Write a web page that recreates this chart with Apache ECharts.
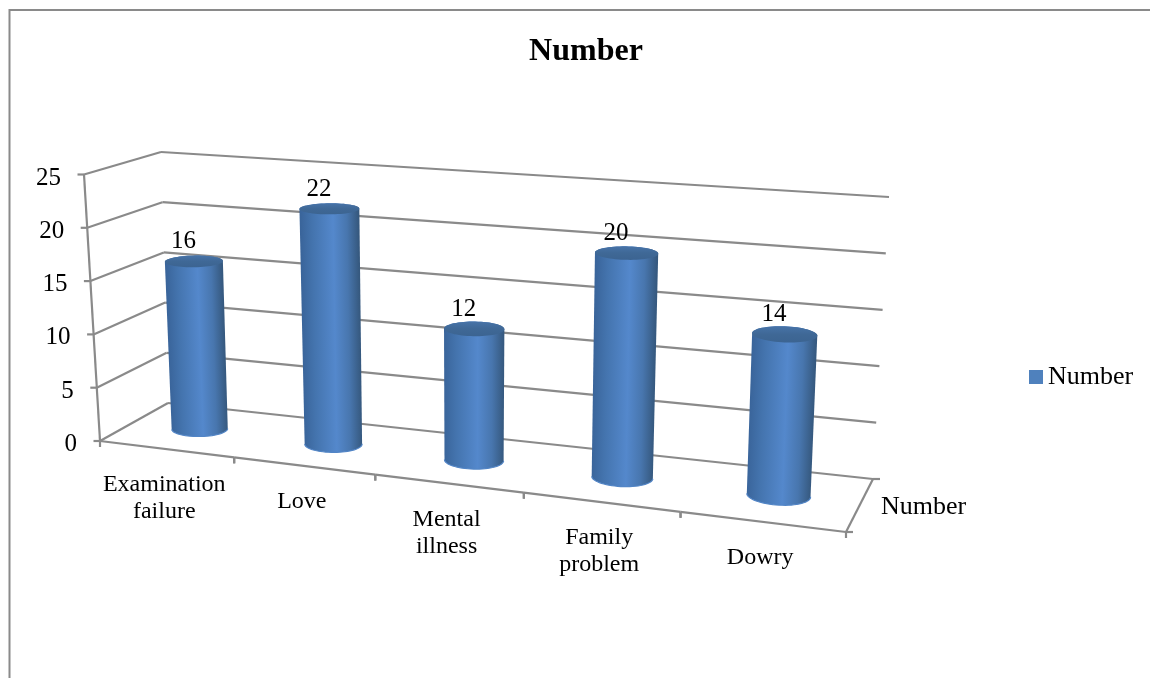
<!DOCTYPE html>
<html>
<head>
<meta charset="utf-8">
<title>Number</title>
<style>
  html, body { margin: 0; padding: 0; background: #fff; }
  #main { width: 1150px; height: 678px; }
</style>
</head>
<body>
<div id="main"></div>
<script src="https://cdn.jsdelivr.net/npm/echarts@6/dist/echarts.min.js"></script>
<script>
const seriesName = "Number";
const categories = ["Examination failure", "Love", "Mental illness", "Family problem", "Dowry"];
const numbers = [16, 22, 12, 20, 14];
const yTicks = [0, 5, 10, 15, 20, 25];

const SERIF = '"Liberation Serif", "Times New Roman", serif';
const LINE = "#8a8a8a";

// corners of the 3d box on screen (front/back, bottom/top, left/right)
const F0 = [100, 441], F1 = [846, 532];
const B0 = [168, 403], B1 = [873, 479];
const TF0 = [84, 174.5], TF1 = [857, 232];
const TB0 = [161, 152], TB1 = [889, 197];
const K = 0.14; // perspective along the x direction
const DEPTH = 0.52, BAR_U = 0.039, BAR_D = 0.185;

function mix(a, b, t) {
  return [a[0] + (b[0] - a[0]) * t, a[1] + (b[1] - a[1]) * t];
}
function project(u, v, d) {
  const t = u / (1 + K * (1 - u));
  const bottom = mix(mix(F0, F1, t), mix(B0, B1, t), d);
  const top = mix(mix(TF0, TF1, t), mix(TB0, TB1, t), d);
  return mix(bottom, top, v);
}
// axis position -> 0..1 inside the flat grid
function toUnit(params, p) {
  const cs = params.coordSys;
  return [(p[0] - cs.x) / cs.width, (cs.y + cs.height - p[1]) / cs.height];
}
function line(a, b) {
  return {
    type: "line",
    shape: { x1: a[0], y1: a[1], x2: b[0], y2: b[1] },
    style: { stroke: LINE, lineWidth: 2.2 },
  };
}
function text(str, x, y, size, align, vAlign) {
  return {
    type: "text",
    style: {
      text: str, x: x, y: y, fill: "#000",
      font: size + "px " + SERIF, align: align, verticalAlign: vAlign, lineHeight: 27,
    },
  };
}

function renderWall(params, api) {
  const val = api.value(0);
  const v = toUnit(params, api.coord([0, val]))[1];
  const front = project(0, v, 0);
  const back = project(0, v, 1);
  const right = project(1, v, 1);
  const children = [
    line(front, back),
    line(back, right),
    line(front, [front[0] - 6.5, front[1]]),
    text(String(val), front[0] - 23, front[1] + 3.5, 25, "right", "middle"),
  ];
  if (val === 0) {
    const frontRight = project(1, 0, 0);
    const backRight = project(1, 0, 1);
    children.push(line(project(0, 0, 0), project(0, 1, 0)));
    children.push(line(frontRight, backRight));
    children.push(line(backRight, [backRight[0] + 7, backRight[1]]));
    children.push(line(frontRight, [frontRight[0] + 7, frontRight[1]]));
    children.push(text(seriesName, 881, 507, 26, "left", "middle"));
  }
  return { type: "group", children: children };
}

function renderFloor(params, api) {
  const i = api.value(0);
  const u = toUnit(params, api.coord([i, 0]))[0];
  const n = categories.length;
  const left = project(i / n, 0, 0);
  const right = project((i + 1) / n, 0, 0);
  const mid = project(u, 0, 0);
  return {
    type: "group",
    children: [
      line(left, right),
      line(left, [left[0], left[1] + 6]),
      line(right, [right[0], right[1] + 6]),
      text(categories[i].replace(" ", "\n"), mid[0] - 2, mid[1] + 22.5, 24, "center", "top"),
    ],
  };
}

function ring(u, v) {
  const pts = [];
  for (let k = 0; k < 64; k++) {
    const t = (k / 64) * Math.PI * 2;
    pts.push(project(u + BAR_U * Math.cos(t), v, DEPTH + BAR_D * Math.sin(t)));
  }
  return pts;
}
function extreme(pts, sign) {
  let best = 0;
  pts.forEach((p, k) => {
    if (sign * p[0] > sign * pts[best][0]) best = k;
  });
  return best;
}
function walk(pts, from, to) {
  const out = [];
  for (let k = from; ; k = (k + 1) % pts.length) {
    out.push(pts[k]);
    if (k === to) break;
  }
  return out;
}

// shading runs across the cylinder, square to its lean
function bodyFill(left, right, base, tip) {
  const ax = tip[0] - base[0], ay = tip[1] - base[1];
  const len = Math.sqrt(ax * ax + ay * ay);
  const nx = -ay / len, ny = ax / len;
  const w = (right[0] - left[0]) * nx + (right[1] - left[1]) * ny;
  return new echarts.graphic.LinearGradient(
    left[0], left[1], left[0] + nx * w, left[1] + ny * w,
    [
      { offset: 0, color: "#3a659b" },
      { offset: 0.2, color: "#4474ae" },
      { offset: 0.56, color: "#5488cc" },
      { offset: 0.8, color: "#4876ae" },
      { offset: 1, color: "#36597f" },
    ],
    true
  );
}

function renderBar(params, api) {
  const i = api.value(0);
  const val = api.value(1);
  const [u, v] = toUnit(params, api.coord([i, val]));
  const top = ring(u, v);
  const bottom = ring(u, 0);
  const rim = walk(bottom, extreme(bottom, -1), extreme(bottom, 1));
  const body = rim.concat(walk(top, extreme(top, 1), extreme(top, -1)));
  const c = project(u, v, DEPTH);
  const base = project(u, 0, DEPTH);
  return {
    type: "group",
    children: [
      {
        type: "polygon",
        shape: { points: body },
        style: { fill: bodyFill(bottom[extreme(bottom, -1)], bottom[extreme(bottom, 1)], base, c) },
      },
      { type: "polyline", shape: { points: rim }, style: { stroke: "#5285c6", lineWidth: 1.2, fill: null } },
      {
        type: "polygon",
        shape: { points: top },
        style: {
          fill: new echarts.graphic.LinearGradient(0, 0, 0, 1, [
            { offset: 0, color: "#4773a8" },
            { offset: 0.5, color: "#3f6896" },
            { offset: 1, color: "#3c6491" },
          ]),
        },
      },
      text(String(val), c[0] - 10.5, c[1] - 19.5, 25, "center", "middle"),
    ],
  };
}

const chart = echarts.init(document.getElementById("main"));
chart.setOption({
  animation: false,
  backgroundColor: "#fff",
  title: {
    text: seriesName,
    left: 581,
    top: 31,
    textAlign: "center",
    textStyle: { fontFamily: SERIF, fontSize: 32, fontWeight: "bold", color: "#000" },
  },
  legend: {
    data: [{ name: seriesName, icon: "rect" }],
    left: 1024,
    top: 359,
    itemWidth: 14,
    itemHeight: 14,
    itemGap: 0,
    textStyle: { fontFamily: SERIF, fontSize: 26, color: "#000" },
  },
  grid: { left: 100, top: 175, width: 746, height: 266 },
  xAxis: { type: "category", data: categories, show: false },
  yAxis: { type: "value", min: 0, max: 25, interval: 5, show: false },
  graphic: [
    {
      type: "polyline",
      silent: true,
      shape: { points: [[9.5, 678], [9.5, 10], [1150, 10]] },
      style: { stroke: LINE, lineWidth: 2, fill: null },
    },
  ],
  series: [
    {
      name: "wall",
      type: "custom",
      silent: true,
      renderItem: renderWall,
      data: yTicks.map((t) => [t]),
      encode: { y: 0 },
      z: 1,
    },
    {
      name: "floor",
      type: "custom",
      silent: true,
      renderItem: renderFloor,
      data: categories.map((c, i) => [i]),
      encode: { x: 0 },
      z: 1,
    },
    {
      name: seriesName,
      type: "custom",
      renderItem: renderBar,
      itemStyle: { color: "#4f81bd" },
      data: numbers.map((n, i) => [i, n]),
      encode: { x: 0, y: 1 },
      z: 2,
    },
  ],
});
</script>
</body>
</html>
